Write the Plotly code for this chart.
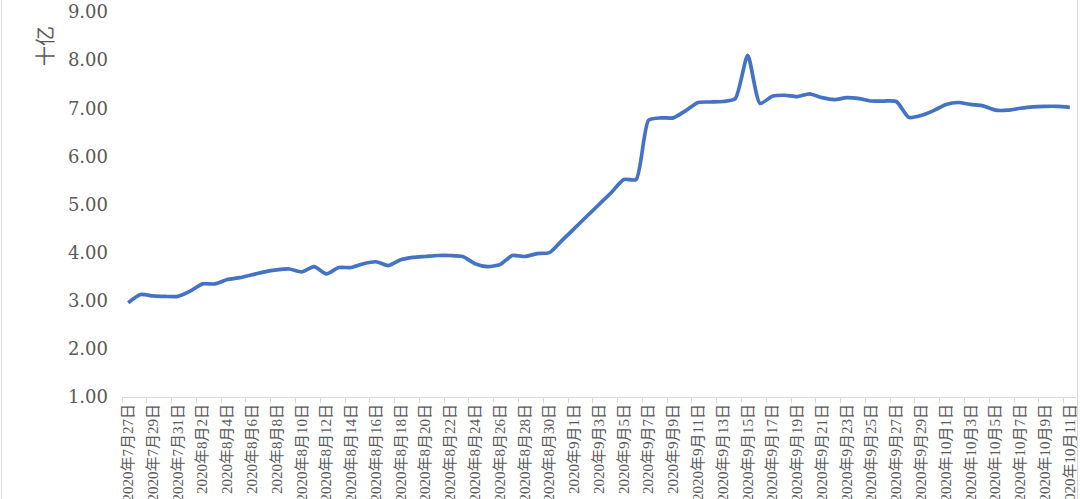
import plotly.graph_objects as go
import datetime as dt

start = dt.date(2020, 7, 27)
n_days = 77
dates = [start + dt.timedelta(days=i) for i in range(n_days)]
date_labels = [f"{d.year}年{d.month}月{d.day}日" for d in dates]

values = [
    2.96, 3.13, 3.10, 3.09, 3.09, 3.20, 3.35, 3.35, 3.44, 3.48,
    3.54, 3.60, 3.64, 3.66, 3.60, 3.71, 3.56, 3.69, 3.69, 3.77,
    3.81, 3.73, 3.85, 3.90, 3.92, 3.94, 3.94, 3.92, 3.77, 3.71,
    3.75, 3.94, 3.92, 3.98, 4.00, 4.25, 4.50, 4.75, 5.00, 5.25,
    5.52, 5.52, 6.75, 6.80, 6.80, 6.95, 7.12, 7.13, 7.14, 7.20,
    8.10, 7.10, 7.25, 7.27, 7.24, 7.30, 7.22, 7.18, 7.22, 7.20,
    7.15, 7.15, 7.14, 6.81, 6.85, 6.95, 7.08, 7.12, 7.08, 7.05,
    6.96, 6.96, 7.00, 7.03, 7.04, 7.04, 7.02,
]

y_ticks = [1, 2, 3, 4, 5, 6, 7, 8, 9]
y_ticktext = [f"{v:.2f}" for v in y_ticks]
y_title = "十亿"

fig = go.Figure()
fig.add_trace(go.Scatter(
    x=date_labels, y=values, mode="lines",
    line=dict(color="#4472C4", width=3.7, shape="spline", smoothing=0.6),
    hoverinfo="skip", showlegend=False,
))

W, H = 1080, 499
ml, mr, mt, mb = 122, 4, 12, 102
pw = W - ml - mr
ph = H - mt - mb

fig.update_layout(
    width=W, height=H,
    margin=dict(l=ml, r=mr, t=mt, b=mb, autoexpand=False),
    paper_bgcolor="white", plot_bgcolor="white",
    showlegend=False,
    xaxis=dict(
        type="category", range=[-0.5, n_days - 0.5],
        tickmode="linear", tick0=0, dtick=2,
        tickson="boundaries", ticks="outside", ticklen=5, tickcolor="#d9d9d9",
        showline=True, linecolor="#d9d9d9", linewidth=1,
        showgrid=False, zeroline=False, tickangle=-90, automargin=False,
        tickfont=dict(family="Liberation Serif, Noto Sans CJK SC", size=15, color="#595959"),
    ),
    yaxis=dict(
        range=[1, 9], tickvals=y_ticks, ticktext=y_ticktext,
        showgrid=False, zeroline=False, showline=False, ticks="",
        ticklabelstandoff=13, automargin=False,
        tickfont=dict(family="DejaVu Serif", size=18, color="#595959"),
    ),
    annotations=[dict(
        text=y_title, xref="paper", yref="paper",
        x=(44 - ml) / pw, y=1 - (46 - mt) / ph,
        xanchor="center", yanchor="middle", textangle=-90, showarrow=False,
        font=dict(family="Noto Sans CJK SC", size=20, color="#595959"),
    )],
    shapes=[
        dict(type="line", xref="paper", yref="paper",
             x0=(1.5 - ml) / pw, x1=(1.5 - ml) / pw,
             y0=-mb / ph, y1=1 + mt / ph,
             line=dict(color="#d9d9d9", width=1)),
        dict(type="line", xref="paper", yref="paper",
             x0=(1077.5 - ml) / pw, x1=(1077.5 - ml) / pw,
             y0=-mb / ph, y1=1 + mt / ph,
             line=dict(color="#d9d9d9", width=1)),
    ],
)

fig.write_html(
    "out.html",
    config={"displayModeBar": False},
    post_script="document.body.style.margin='0px';document.body.style.overflow='hidden';",
)
